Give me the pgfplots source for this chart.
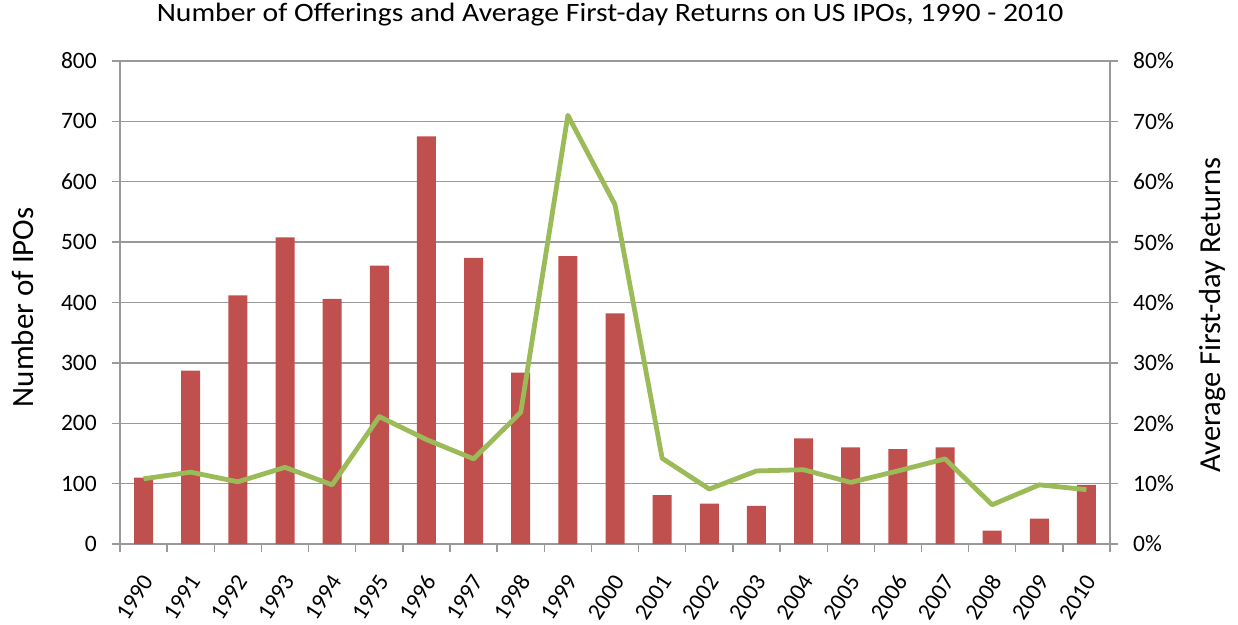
\documentclass[border=0pt]{standalone}
\usepackage{pgfplots}
\pgfplotsset{compat=1.18}
\usepackage{fontspec}
\setmainfont{Carlito}
\newfontfamily\titlefont[FakeStretch=1.12]{Carlito}
\definecolor{barred}{HTML}{C0504D}
\definecolor{linegreen}{HTML}{9BBB59}
\definecolor{gridgray}{HTML}{999999}
\begin{document}
\begin{tikzpicture}
\path[use as bounding box] (-120pt,-80pt) rectangle (1118pt,544pt);
\pgfplotsset{
  common/.style={
    scale only axis, width=990pt, height=483pt,
    at={(0,0)}, anchor=south west,
    xmin=-0.5, xmax=20.5,
    /pgf/number format/assume math mode=true,
    tick label style={font=\fontsize{23.5}{26}\selectfont, black, inner sep=0pt},
    axis line style={gridgray, line width=1.3pt},
    every tick/.style={gridgray, line width=1.3pt},
    major tick length=8pt, minor tick length=8pt,
    tick align=outside,
  }
}
\begin{axis}[common,
  axis y line*=left, axis x line*=bottom,
  ymin=0, ymax=800, ytick={0,100,...,800},
  ymajorgrids, grid style={gridgray, line width=1.3pt},
  xtick={0,...,20}, major x tick style={draw=none},
  minor xtick={-0.5,0.5,...,20.5},
  xticklabels={1990,1991,1992,1993,1994,1995,1996,1997,1998,1999,2000,2001,2002,2003,2004,2005,2006,2007,2008,2009,2010},
  xticklabel style={xshift=4pt, yshift=-25pt, rotate=57, anchor=east},
  yticklabel style={xshift=-15pt},
  ylabel={Number of IPOs},
  ylabel style={at={(axis description cs:-0.098,0.49)}, anchor=center, font=\fontsize{31}{34}\selectfont},
  title={\titlefont Number of Offerings and Average First-day Returns on US IPOs, 1990 - 2010},
  title style={at={(axis description cs:0.495,1)}, anchor=base, yshift=33pt, font=\fontsize{26.5}{30}\selectfont},
]
\addplot[ybar, bar width=19pt, fill=barred, draw=none] coordinates {
(0,110) (1,287) (2,412) (3,508) (4,406) (5,461) (6,675) (7,474) (8,284) (9,477) (10,382) (11,81) (12,67) (13,63) (14,175) (15,160) (16,157) (17,160) (18,22) (19,42) (20,98)};
\end{axis}
\begin{axis}[common,
  axis y line*=right, axis x line=none,
  ymin=0, ymax=80, ytick={0,10,...,80},
  yticklabel={\pgfmathprintnumber{\tick}\%},
  yticklabel style={xshift=15pt},
  ylabel={Average First-day Returns},
  ylabel style={at={(axis description cs:1.104,0.474)}, anchor=center, font=\fontsize{30.5}{34}\selectfont},
]
\addplot[linegreen, line width=4.8pt, line join=round] coordinates {
(0,10.8) (1,11.9) (2,10.3) (3,12.7) (4,9.8) (5,21.1) (6,17.3) (7,14.1) (8,21.8) (9,71.0) (10,56.2) (11,14.2) (12,9.1) (13,12.1) (14,12.3) (15,10.2) (16,12.1) (17,14.1) (18,6.5) (19,9.8) (20,9.0)};
\end{axis}
\end{tikzpicture}
\end{document}
